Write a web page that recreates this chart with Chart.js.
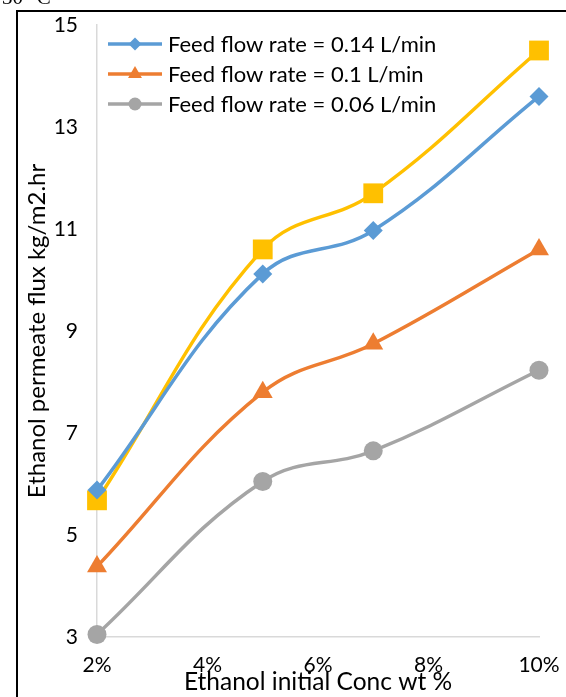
<!DOCTYPE html>
<html>
<head>
<meta charset="utf-8">
<script src="https://cdn.jsdelivr.net/npm/chart.js@4.4.0/dist/chart.umd.min.js"></script>
<style>
body { margin: 0; background: #fff; overflow: hidden; }
#wrap { position: relative; width: 566px; height: 697px; overflow: hidden; }
#frame { position: absolute; left: 16px; top: 10px; width: 700px; height: 800px; border-left: 2px solid #000; border-top: 2px solid #000; pointer-events: none; }
#cut { position: absolute; left: 2px; top: -15px; font: 21px 'Liberation Serif'; color: #000; }
canvas { position: absolute; left: 0; top: 0; }
</style>
</head>
<body>
<div id="wrap">
  <canvas id="fluxChart" width="566" height="697"></canvas>
  <div id="cut">30 °C</div>
  <div id="frame"></div>
</div>
<script>
const concentrations = [2, 5, 7, 10]
const flux014 = [5.88, 10.12, 10.97, 13.6]
const flux01 = [4.38, 7.8, 8.75, 10.6]
const flux006 = [3.05, 6.05, 6.65, 8.23]
const fluxExtra = [5.68, 10.6, 11.7, 14.5]

const seriesLabels = ['Feed flow rate = 0.14 L/min', 'Feed flow rate = 0.1 L/min', 'Feed flow rate = 0.06 L/min']

const FONT = 'Lato'

const toPoints = (values) => concentrations.map((c, i) => ({ x: c, y: values[i] }))

const drawMarker = (ctx, style, x, y, r, color) => {
    ctx.save()
    ctx.fillStyle = color
    ctx.beginPath()
    if (style === 'rectRot') {
        ctx.moveTo(x, y - r); ctx.lineTo(x + r, y); ctx.lineTo(x, y + r); ctx.lineTo(x - r, y)
    } else if (style === 'triangle') {
        ctx.moveTo(x, y - r); ctx.lineTo(x + r * 0.87, y + r * 0.5); ctx.lineTo(x - r * 0.87, y + r * 0.5)
    } else {
        ctx.arc(x, y, r, 0, Math.PI * 2)
    }
    ctx.closePath()
    ctx.fill()
    ctx.restore()
}

// legend drawn by hand: line sample with marker in the middle, only first three series
const legendPlugin = {
    id: 'lineLegend',
    afterDraw(chart) {
        const ctx = chart.ctx
        const rows = [44, 74, 104]
        chart.data.datasets.slice(0, 3).forEach((ds, i) => {
            const y = rows[i]
            ctx.save()
            ctx.strokeStyle = ds.borderColor
            ctx.lineWidth = 3.5
            ctx.beginPath()
            ctx.moveTo(108, y)
            ctx.lineTo(162, y)
            ctx.stroke()
            ctx.restore()
            const r = ds.pointStyle === 'triangle' ? 8 : 6.5
            drawMarker(ctx, ds.pointStyle, 135, y, r, ds.borderColor)
            ctx.save()
            ctx.fillStyle = '#000'
            ctx.font = `22px ${FONT}`
            ctx.textBaseline = 'middle'
            ctx.fillText(seriesLabels[i], 168, y + 1)
            ctx.restore()
        })
    }
}

const makeSet = (label, values, color, style, radius) => ({
    label: label,
    data: toPoints(values),
    borderColor: color,
    backgroundColor: color,
    borderWidth: 3.5,
    pointStyle: style,
    pointRadius: radius,
    pointBorderWidth: 0,
    tension: 0.4,
    clip: false
})

// keep the plot box where the reference has it: no automatic label padding
const noPad = (scale) => {
    scale.paddingLeft = 0
    scale.paddingRight = 0
    scale.paddingTop = 0
    scale.paddingBottom = 0
}

const config = {
    type: 'line',
    data: {
        datasets: [
            makeSet(seriesLabels[0], flux014, '#5B9BD5', 'rectRot', 9.5),
            makeSet(seriesLabels[1], flux01, '#ED7D31', 'triangle', 11.5),
            makeSet(seriesLabels[2], flux006, '#A5A5A5', 'circle', 9.5),
            makeSet('extra', fluxExtra, '#FFC000', 'rect', 14)
        ]
    },
    options: {
        responsive: false,
        animation: false,
        layout: { padding: { left: 0, right: 27, top: 25, bottom: 0 } },
        plugins: { legend: { display: false }, tooltip: { enabled: false } },
        scales: {
            x: {
                type: 'linear',
                min: 2,
                max: 10,
                afterFit: (scale) => { scale.height = 60; noPad(scale) },
                grid: { display: false, drawTicks: false, tickLength: 0 },
                border: { display: true, color: '#d9d9d9', width: 1.5 },
                ticks: {
                    stepSize: 2,
                    padding: 16,
                    color: '#000',
                    font: { family: FONT, size: 21 },
                    callback: (v) => v + '%'
                },
                title: {
                    display: true,
                    text: 'Ethanol initial Conc wt %',
                    color: '#000',
                    font: { family: FONT, size: 24.5 },
                    padding: { top: 0, bottom: 0 }
                }
            },
            y: {
                min: 3,
                max: 15,
                afterFit: (scale) => { scale.width = 97; noPad(scale) },
                grid: { display: false, drawTicks: false, tickLength: 0 },
                border: { display: true, color: '#d9d9d9', width: 1.5 },
                ticks: {
                    stepSize: 2,
                    padding: 19,
                    color: '#000',
                    font: { family: FONT, size: 21 }
                },
                title: {
                    display: true,
                    text: 'Ethanol permeate flux kg/m2.hr',
                    color: '#000',
                    font: { family: FONT, size: 24 },
                    padding: { top: 23, bottom: 0 }
                }
            }
        }
    },
    plugins: [legendPlugin]
}

const fluxChart = new Chart(document.getElementById('fluxChart'), config)
</script>
</body>
</html>
